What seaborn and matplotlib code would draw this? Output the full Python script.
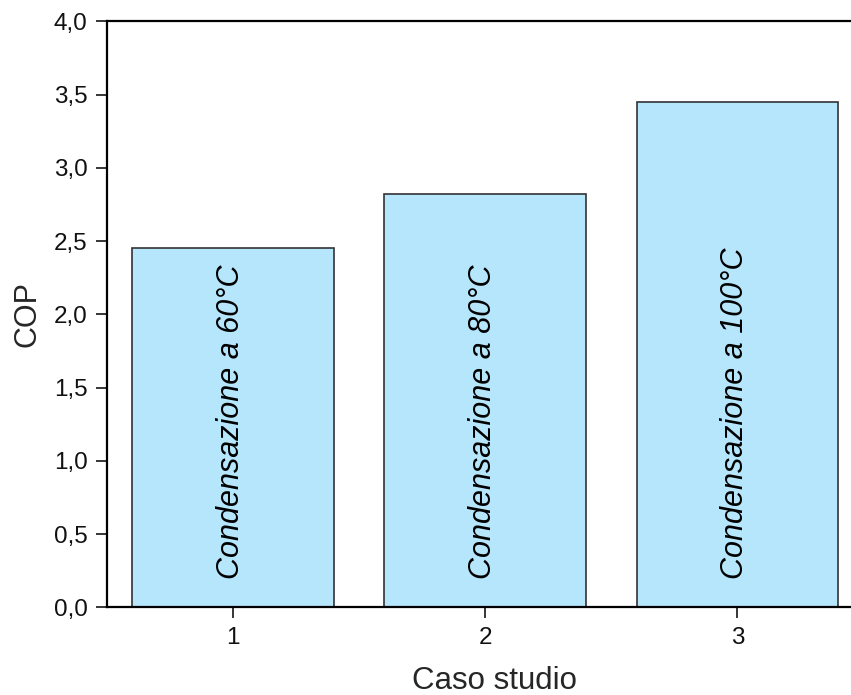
import matplotlib
matplotlib.use("Agg")
import matplotlib.pyplot as plt
from matplotlib.ticker import FuncFormatter, MultipleLocator
import seaborn as sns
import pandas as pd

# Data
cases = [1, 2, 3]
cop = [2.45, 2.82, 3.45]
bar_labels = ["Condensazione a 60°C", "Condensazione a 80°C", "Condensazione a 100°C"]

sns.set_style("ticks")
plt.rcParams["font.family"] = ["Liberation Sans", "DejaVu Sans"]

df = pd.DataFrame({"case": cases, "cop": cop})

fig = plt.figure(figsize=(8.51, 6.95), dpi=100)
ax = fig.add_axes([107 / 851, 1 - 607.3 / 695, 756.5 / 851, 586 / 695])

sns.barplot(data=df, x="case", y="cop", native_scale=True, width=0.8,
            color="#B5E6FC", saturation=1, edgecolor="#333333", linewidth=1.2,
            ax=ax)

for x, y, lab in zip(cases, cop, bar_labels):
    ax.text(x - 0.01, 0.19, lab, rotation=90, ha="center", va="bottom",
            style="italic", fontsize=22, color="black")

ax.set_xlim(0.5, 3.5)
ax.set_ylim(0, 4.0)
ax.set_xticks(cases)
ax.yaxis.set_major_locator(MultipleLocator(0.5))
ax.yaxis.set_major_formatter(FuncFormatter(lambda v, p: f"{v:.1f}".replace(".", ",")))

ax.set_xlabel("Caso studio", fontsize=22.5)
ax.xaxis.set_label_coords(0.512, -0.125, transform=ax.transAxes)
ax.xaxis.label.set_va("center")
ax.set_ylabel("COP", fontsize=22, labelpad=8)
ax.tick_params(axis="both", labelsize=17.5, length=8, width=1.1, direction="out",
               pad=6, color="black", labelcolor="#111111")
for side in ["left", "bottom", "top"]:
    ax.spines[side].set_linewidth(1.6)
    ax.spines[side].set_color("black")
ax.spines["right"].set_visible(False)

fig.savefig("out.png", dpi=100)
